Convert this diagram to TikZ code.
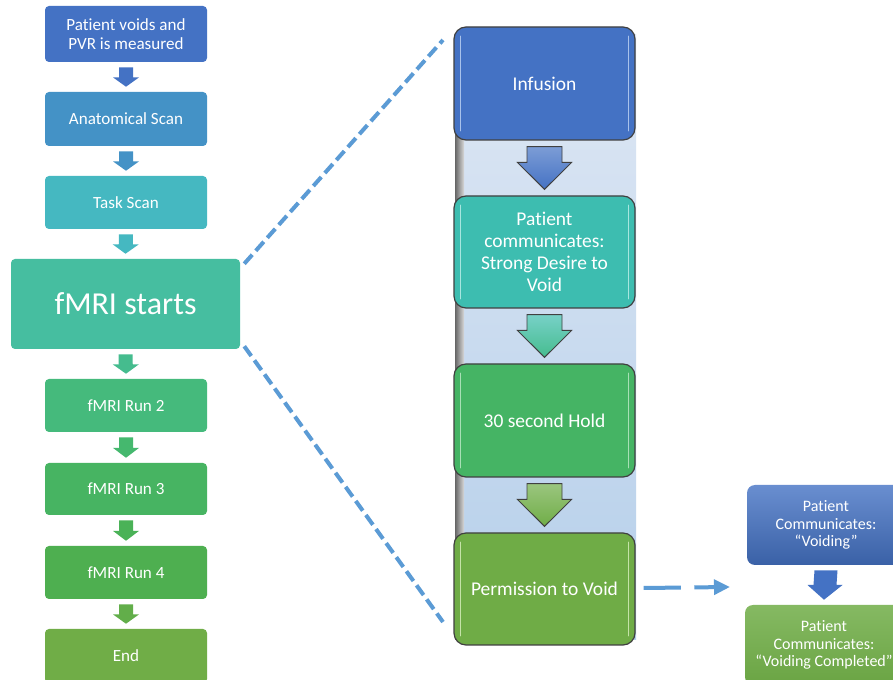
\documentclass[tikz,border=0pt]{standalone}
\usepackage{fontspec}
\setmainfont{Carlito}[Ligatures=NoCommon]
\usetikzlibrary{calc,arrows.meta}
\definecolor{cL1}{HTML}{4472C4}
\definecolor{cL2}{HTML}{4492C6}
\definecolor{cL3}{HTML}{45B8C1}
\definecolor{cL4}{HTML}{46BEA0}
\definecolor{cL5}{HTML}{45BA7C}
\definecolor{cL6}{HTML}{47B462}
\definecolor{cL7}{HTML}{4EAF50}
\definecolor{cL8}{HTML}{70AD47}
\definecolor{cA4}{HTML}{45BC8E}
\definecolor{cA5}{HTML}{45B86E}
\definecolor{cA6}{HTML}{4AB257}
\definecolor{cA7}{HTML}{62AE4A}
\definecolor{cM1}{HTML}{4472C4}
\definecolor{cM2}{HTML}{3DBDB0}
\definecolor{cM3}{HTML}{45B464}
\definecolor{cM4}{HTML}{6FAC46}
\definecolor{hM1}{HTML}{A9C2EB}
\definecolor{hM2}{HTML}{A8E6DF}
\definecolor{hM3}{HTML}{A8E0B5}
\definecolor{hM4}{HTML}{C5E3A8}
\definecolor{dashblue}{HTML}{5B9BD5}
\definecolor{panelTop}{HTML}{DEE7F4}
\definecolor{panelBot}{HTML}{B5CFEA}
% box by pixel corners: style, name, x1, y1, x2, y2, text
\newcommand\pbox[7]{%
  \node[#1, minimum width={(#5-#3)*0.75pt}, minimum height={(#6-#4)*0.75pt}]
     (#2) at ({(#3+#5)/2},{(#4+#6)/2}) {#7};}
\newcommand\downblock[7]{%
  \coordinate (s) at ($(#1.south)+(0,#7)$);
  \coordinate (e) at ($(#2.north)+(0,-#7)$);
  \coordinate (m) at ($(s)!#6!(e)$);
  \path[#3] ($(s)+(-#4,0)$) -- ($(s)+(#4,0)$) -- ($(m)+(#4,0)$) -- ($(m)+(#5,0)$) -- (e)
     -- ($(m)+(-#5,0)$) -- ($(m)+(-#4,0)$) -- cycle;}
\newcommand\hilite[2]{%
  \draw[line width=1.3pt, line cap=round, #2] ($(#1.north west)+(7,10)$) -- ($(#1.south west)+(7,-10)$);
  \draw[line width=1.3pt, line cap=round, #2] ($(#1.north east)+(-7,10)$) -- ($(#1.south east)+(-7,-10)$);}
\begin{document}
\begin{tikzpicture}[x=0.75pt, y=-0.75pt,
  lbox/.style={rectangle, rounded corners=3pt, inner sep=0pt, text=white, align=center,
     font=\fontsize{12.8}{13.8}\selectfont},
  mbox/.style={rectangle, rounded corners=9pt, inner sep=0pt, draw=black!75, line width=0.9pt,
     text=white, align=center, font=\fontsize{14.6}{16.5}\selectfont},
  rbox/.style={rectangle, rounded corners=6pt, inner sep=0pt, text=white, align=center,
     font=\fontsize{12}{13}\selectfont},
  dline/.style={draw=dashblue, line width=3pt, dash pattern=on 9pt off 4pt},
  marrow/.style={draw=black!75, line width=0.7pt, line join=miter}]
\useasboundingbox (0,0) rectangle (893,680);
\clip (0,0) rectangle (893,680);
\fill[white] (0,0) rectangle (893,680);

% ---------- left column ----------
\pbox{lbox, fill=cL1}{b1}{45}{6}{207}{62}{Patient voids and\\PVR is measured}
\pbox{lbox, fill=cL2}{b2}{45}{92}{207}{146}{Anatomical Scan}
\pbox{lbox, fill=cL3}{b3}{45}{176}{207}{229}{Task Scan}
\pbox{lbox, fill=cL4, font=\fontsize{24}{26}\selectfont}{fmri}{11}{259}{240}{349}{fMRI starts}
\pbox{lbox, fill=cL5}{r2}{45}{379}{207}{432}{fMRI Run 2}
\pbox{lbox, fill=cL6}{r3}{45}{463}{207}{515}{fMRI Run 3}
\pbox{lbox, fill=cL7}{r4}{45}{546}{207}{599}{fMRI Run 4}
\pbox{lbox, fill=cL8}{end}{45}{629}{207}{683}{End}

\downblock{b1}{b2}{fill=cL1}{7}{13}{0.52}{5}
\downblock{b2}{b3}{fill=cL2}{7}{13}{0.52}{5}
\downblock{b3}{fmri}{fill=cL3}{7}{13}{0.52}{5}
\downblock{fmri}{r2}{fill=cA4}{7}{13}{0.52}{5}
\downblock{r2}{r3}{fill=cA5}{7}{13}{0.52}{5}
\downblock{r3}{r4}{fill=cA6}{7}{13}{0.52}{5}
\downblock{r4}{end}{fill=cA7}{7}{13}{0.52}{5}

% ---------- middle panel ----------
\shade[top color=panelTop, bottom color=panelBot] (455,35) rectangle (636,640);
\shade[left color=black!60, right color=black!15] (455,35) rectangle (464,640);

\pbox{mbox, fill=cM1}{inf}{454}{27}{635}{140}{Infusion}
\pbox{mbox, fill=cM2}{pc}{454}{196}{635}{308}{Patient\\communicates:\\Strong Desire to\\Void}
\pbox{mbox, fill=cM3}{hold}{454}{364}{635}{477}{30 second Hold}
\pbox{mbox, fill=cM4}{perm}{454}{533}{635}{645}{Permission to Void}
\hilite{inf}{hM1}
\hilite{pc}{hM2}
\hilite{hold}{hM3}
\hilite{perm}{hM4}

\downblock{inf}{pc}{marrow, top color=cM1!70!white, bottom color=cM1}{17.5}{27}{0.37}{6}
\downblock{pc}{hold}{marrow, top color=cM2!70!white, bottom color=cA4}{17.5}{27}{0.37}{6}
\downblock{hold}{perm}{marrow, top color=cL8!70!white, bottom color=cL8}{17.5}{27}{0.37}{6}

% ---------- dashed zoom lines ----------
\coordinate (zt) at (443,40);
\coordinate (zb) at (443,622);
\draw[dline] ($(fmri.north east)+(4,5)$) -- (zt);
\draw[dline] ($(fmri.south east)+(4,-3)$) -- (zb);

% ---------- right column ----------
\pbox{rbox, top color=cL1!80!white, bottom color=cL1!85!black}{rv}{747}{485}{905}{565}{Patient\\Communicates:\\“Voiding”}
\pbox{rbox, top color=cL8!85!white, bottom color=cL8!95!black}{rc}{745}{605}{903}{685}{Patient\\Communicates:\\“Voiding Completed”}
\downblock{rv}{rc}{fill=cL1}{11.5}{17.5}{0.5}{5}

\coordinate (da) at (730,587);
\draw[draw=dashblue, line width=3pt, dash pattern=on 28pt off 10pt, -{Triangle[length=12pt,width=11pt]}]
  ($(perm.east)+(8,-1)$) -- (da);
\end{tikzpicture}
\end{document}
